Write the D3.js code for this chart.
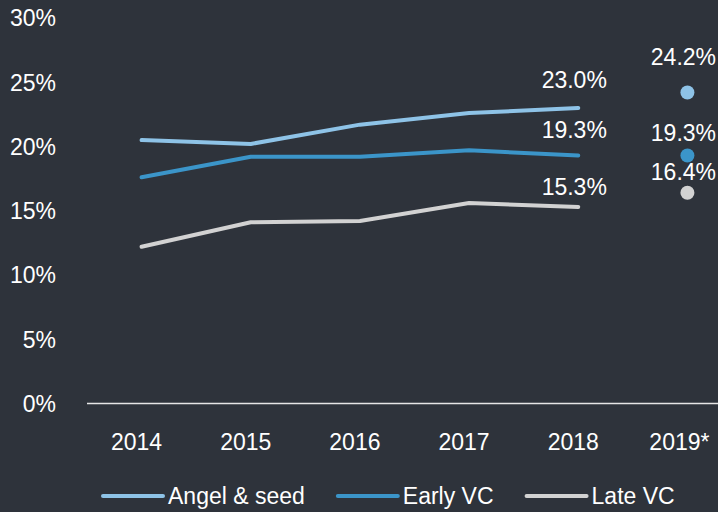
<!DOCTYPE html>
<html>
<head>
<meta charset="utf-8">
<script src="https://cdnjs.cloudflare.com/ajax/libs/d3/7.8.5/d3.min.js"></script>
<style>
  html, body { margin: 0; padding: 0; background: #2e333b; }
  svg { display: block; }
  text { font-family: "Liberation Sans", Arial, sans-serif; fill: #ffffff; }
</style>
</head>
<body>
<script>
// data
var years = ["2014", "2015", "2016", "2017", "2018", "2019*"];
var lineYears = ["2014", "2015", "2016", "2017", "2018"];
var seriesNames = ["Angel & seed", "Early VC", "Late VC"];
var angelSeed = [20.5, 20.2, 21.7, 22.6, 23.0];
var earlyVC = [17.6, 19.2, 19.2, 19.7, 19.3];
var lateVC = [12.2, 14.1, 14.2, 15.6, 15.3];
var forecast2019 = [24.2, 19.3, 16.4];
var yTicks = [0, 5, 10, 15, 20, 25, 30];

// label offsets above the point (px), 2018 and 2019* labels
var offset2018 = [28, 26, 20];
var offset2019 = [36, 23, 21];
var colors = ["#8ec3e7", "#3b95c9", "#d2d2d2"];

window.onload = function(){

    var W = 718, H = 512;
    var margin = {left: 87, top: 18, bottom: 403.5};
    var fs = "23px";

    var svg = d3.select("body")
        .append("svg")
        .attr("width", W)
        .attr("height", H);

    var x = d3.scalePoint().domain(years).range([margin.left, 742]).padding(0.5),
        y = d3.scaleLinear().domain([0, 30]).range([margin.bottom, margin.top]);

    // y tick labels
    svg.append("g").selectAll("text")
        .data(yTicks)
        .enter().append("text")
        .attr("x", 56)
        .attr("y", function(d) { return y(d); })
        .attr("dy", "0.36em")
        .attr("text-anchor", "end")
        .style("font-size", fs)
        .text(function(d) { return d + "%"; });

    // baseline
    svg.append("line")
        .attr("x1", margin.left)
        .attr("x2", W)
        .attr("y1", y(0))
        .attr("y2", y(0))
        .attr("stroke", "#e6e6e6")
        .attr("stroke-width", 1.5);

    // x tick labels
    svg.append("g").selectAll("text")
        .data(years)
        .enter().append("text")
        .attr("x", function(d) { return x(d) - (d == "2019*" ? 8 : 5); })
        .attr("y", 442)
        .attr("dy", "0.36em")
        .attr("text-anchor", "middle")
        .style("font-size", fs)
        .text(function(d) { return d; });

    var series = [angelSeed, earlyVC, lateVC];

    var line = d3.line()
        .x(function(d, i) { return x(lineYears[i]); })
        .y(function(d) { return y(d); });

    // lines
    series.forEach(function(s, k) {
        svg.append("path")
            .datum(s)
            .attr("d", line)
            .attr("fill", "none")
            .attr("stroke", colors[k])
            .attr("stroke-width", 4)
            .attr("stroke-linecap", "round")
            .attr("stroke-linejoin", "round");

        // 2018 label
        var last = s[s.length - 1];
        svg.append("text")
            .attr("x", x("2018") - 4)
            .attr("y", y(last) - offset2018[k])
            .attr("dy", "0.36em")
            .attr("text-anchor", "middle")
            .style("font-size", fs)
            .text(last.toFixed(1) + "%");
    });

    // 2019* dots
    forecast2019.forEach(function(v, k) {
        svg.append("circle")
            .attr("cx", x("2019*"))
            .attr("cy", y(v))
            .attr("r", 7)
            .attr("fill", colors[k]);

        svg.append("text")
            .attr("x", x("2019*") - 4)
            .attr("y", y(v) - offset2019[k])
            .attr("dy", "0.36em")
            .attr("text-anchor", "middle")
            .style("font-size", fs)
            .text(v.toFixed(1) + "%");
    });

    // legend
    var lx = 103, ly = 496;
    seriesNames.forEach(function(name, k) {
        svg.append("line")
            .attr("x1", lx)
            .attr("x2", lx + 60)
            .attr("y1", ly)
            .attr("y2", ly)
            .attr("stroke", colors[k])
            .attr("stroke-width", 4)
            .attr("stroke-linecap", "round");
        var t = svg.append("text")
            .attr("x", lx + 65)
            .attr("y", ly)
            .attr("dy", "0.36em")
            .style("font-size", fs)
            .text(name);
        lx += 65 + t.node().getComputedTextLength() + 33;
    });
}
</script>
</body>
</html>
